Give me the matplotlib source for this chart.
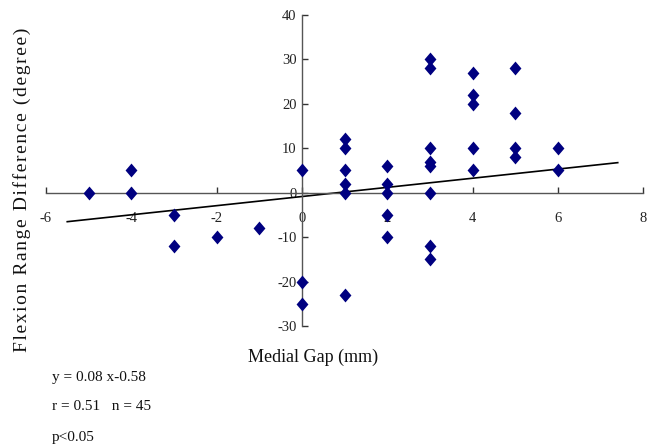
import matplotlib
matplotlib.use("Agg")
import matplotlib.pyplot as plt
import numpy as np

plt.rcParams['font.family'] = ['Liberation Serif', 'DejaVu Serif']

# Data
gap_x = [-5, -4, -4, -3, -3, -2, -1,
         0, 0, 0,
         1, 1, 1, 1, 1, 1,
         2, 2, 2, 2, 2,
         3, 3, 3, 3, 3, 3, 3, 3,
         4, 4, 4, 4, 4,
         5, 5, 5, 5,
         6, 6]
flex_y = [0, 5, 0, -5, -12, -10, -8,
          5, -20, -25,
          12, 10, 5, 2, 0, -23,
          6, 2, 0, -5, -10,
          30, 28, 10, 7, 6, 0, -12, -15,
          27, 22, 20, 10, 5,
          28, 18, 10, 8,
          10, 5]

# Fitted trend line as drawn
line_x = [-5.5, 7.4]
line_slope = 1.03
line_intercept = -0.86

x_ticks = [-6, -4, -2, 0, 2, 4, 6, 8]
y_ticks = [-30, -20, -10, 0, 10, 20, 30, 40]

stats_lines = ["y = 0.08 x-0.58", "r = 0.51   n = 45", "p<0.05"]
y_label = "Flexion Range Difference (degree)"
x_label = "Medial Gap (mm)"

fig = plt.figure(figsize=(6.54, 4.46), dpi=100)
ax = fig.add_axes([0.0702, 0.2691, 0.9135, 0.6973])
ax.set_xlim(-6, 8)
ax.set_ylim(-30, 40)

ax.spines['left'].set_position(('data', 0))
ax.spines['bottom'].set_position(('data', 0))
ax.spines['right'].set_visible(False)
ax.spines['top'].set_visible(False)
for s in ('left', 'bottom'):
    ax.spines[s].set_color('#555555')
    ax.spines[s].set_linewidth(1.0)

ax.set_xticks(x_ticks)
ax.set_yticks(y_ticks)
ax.set_xticklabels([str(t) for t in x_ticks])
ax.set_yticklabels([str(t) for t in y_ticks])
ax.tick_params(axis='x', direction='in', length=4, width=1, color='#333333',
               pad=14, labelsize=10.5, labelcolor='#222222')
ax.tick_params(axis='y', direction='in', length=4, width=1, color='#333333',
               pad=4, labelsize=10.5, labelcolor='#222222')

lx = np.array(line_x)
ax.plot(lx, line_slope * lx + line_intercept, color='black', lw=1.2, zorder=2)

diamond = [(0, -1.17), (1, 0), (0, 1.17), (-1, 0), (0, -1.17)]
ax.scatter(gap_x, flex_y, marker=diamond, s=100, color='#000080', zorder=3,
           linewidths=0)

fig.text(313 / 654, 1 - 357 / 446, x_label, fontsize=13,
         ha='center', va='center', color='#111111')
spaced = "\u200a".join(y_label)
fig.text(22 / 654, 1 - 190 / 446, spaced,
         fontsize=14, rotation=90, ha='center', va='center', color='#111111')

for i, s in enumerate(stats_lines):
    fig.text(52 / 654, 1 - (377 + 30 * i) / 446, s, fontsize=11,
             ha='left', va='center', color='#111111')

fig.savefig("out.png", dpi=100)
